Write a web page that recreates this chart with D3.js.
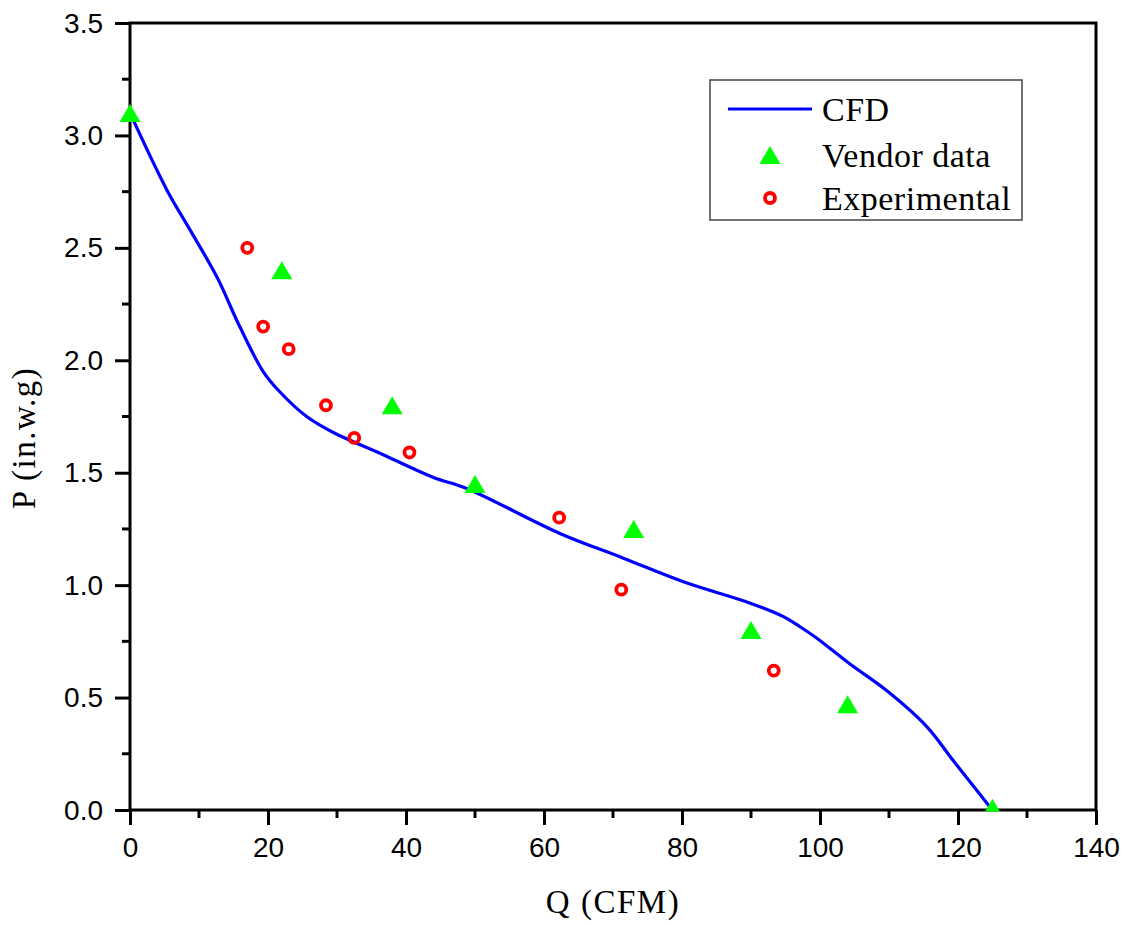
<!DOCTYPE html>
<html lang="en">
<head>
  <meta charset="UTF-8">
  <title>P-Q curve</title>
  <script src="https://d3js.org/d3.v7.min.js"></script>
  <style>
    body {
      margin: 0;
      padding: 0;
      background: #fff;
    }
    .tick-label {
      font-family: "Liberation Sans", Arial, sans-serif;
      font-size: 28px;
      fill: #000;
    }
    .title {
      font-family: "Liberation Serif", "Times New Roman", serif;
      font-size: 33px;
      letter-spacing: 1.5px;
      fill: #000;
    }
    .legend-text {
      font-family: "Liberation Serif", "Times New Roman", serif;
      font-size: 34px;
      letter-spacing: 0.5px;
      fill: #000;
    }
  </style>
</head>
<body>
  <svg id="chart" width="1126" height="925"></svg>

  <script>
    // CFD curve (Q, P)
    const cfdQ = [0, 5.3, 8.7, 12.6, 15.9, 19.3, 21.7, 25.6, 29.4, 36.7, 43.9, 48.8, 62.3, 71.5, 80.2, 89.9, 94.7, 97.1, 99.5, 104.3, 109.7, 115.5, 119.3, 124.2, 125];
    const cfdP = [3.10, 2.76, 2.58, 2.37, 2.15, 1.95, 1.86, 1.75, 1.68, 1.58, 1.48, 1.43, 1.23, 1.12, 1.015, 0.92, 0.86, 0.815, 0.765, 0.65, 0.53, 0.37, 0.22, 0.03, 0.0];

    // Vendor data
    const vendorQ = [0, 22, 38, 50, 73, 90, 104, 125];
    const vendorP = [3.1, 2.4, 1.8, 1.45, 1.25, 0.8, 0.47, 0.01];

    // Experimental
    const expQ = [17, 19.3, 23, 28.4, 32.5, 40.5, 62.2, 71.2, 93.3];
    const expP = [2.5, 2.15, 2.05, 1.8, 1.655, 1.59, 1.3, 0.98, 0.62];

    const xTicks = [0, 20, 40, 60, 80, 100, 120, 140];
    const yTicks = [0, 0.5, 1.0, 1.5, 2.0, 2.5, 3.0, 3.5];
    const legendLabels = ["CFD", "Vendor data", "Experimental"];

    const svg = d3.select("#chart");
    const plotL = 130, plotR = 1096, plotT = 23, plotB = 810;

    const x = d3.scaleLinear().domain([0, 140]).range([plotL, plotR]);
    const y = d3.scaleLinear().domain([0, 3.5]).range([plotB, plotT]);

    const cfd = cfdQ.map((q, i) => ({ q, p: cfdP[i] }));
    const vendor = vendorQ.map((q, i) => ({ q, p: vendorP[i] }));
    const exp = expQ.map((q, i) => ({ q, p: expP[i] }));

    svg.append("defs").append("clipPath").attr("id", "clip")
      .append("rect").attr("x", plotL - 15).attr("y", plotT).attr("width", plotR - plotL + 15).attr("height", plotB - plotT + 1.5);

    // curve
    const line = d3.line().x(d => x(d.q)).y(d => y(d.p)).curve(d3.curveCatmullRom.alpha(0.5));
    svg.append("path")
      .datum(cfd)
      .attr("d", line)
      .attr("fill", "none")
      .attr("stroke", "#0000ff")
      .attr("stroke-width", 3.2);

    // axes
    const xAxis = d3.axisBottom(x).tickValues(xTicks).tickSize(15).tickSizeOuter(0).tickPadding(10);
    const yAxis = d3.axisLeft(y).tickValues(yTicks).tickSize(15).tickSizeOuter(0).tickPadding(12).tickFormat(d3.format(".1f"));

    const gx = svg.append("g").attr("transform", `translate(0,${plotB})`).call(xAxis);
    const gy = svg.append("g").attr("transform", `translate(${plotL},0)`).call(yAxis);

    [gx, gy].forEach(g => {
      g.attr("font-size", null).attr("font-family", null);
      g.select(".domain").remove();
      g.selectAll(".tick line").attr("stroke", "#000").attr("stroke-width", 3);
      g.selectAll(".tick text").attr("class", "tick-label");
    });
    gx.selectAll(".tick text").attr("dy", null).attr("y", 47);
    gy.selectAll(".tick text").attr("dy", null).attr("y", 9);

    // minor ticks
    svg.append("g").selectAll("line")
      .data(d3.range(10, 140, 20))
      .join("line")
      .attr("x1", d => x(d)).attr("x2", d => x(d))
      .attr("y1", plotB).attr("y2", plotB + 8)
      .attr("stroke", "#000").attr("stroke-width", 3);
    svg.append("g").selectAll("line")
      .data(d3.range(0.25, 3.5, 0.5))
      .join("line")
      .attr("x1", plotL - 8).attr("x2", plotL)
      .attr("y1", d => y(d)).attr("y2", d => y(d))
      .attr("stroke", "#000").attr("stroke-width", 3);

    // frame
    svg.append("rect")
      .attr("x", plotL).attr("y", plotT)
      .attr("width", plotR - plotL).attr("height", plotB - plotT)
      .attr("fill", "none").attr("stroke", "#000").attr("stroke-width", 3);

    // markers
    const tri = (w, h) => `M0,${-h / 2}L${w / 2},${h / 2}L${-w / 2},${h / 2}Z`;
    const markers = svg.append("g").attr("clip-path", "url(#clip)");
    markers.selectAll("path")
      .data(vendor)
      .join("path")
      .attr("d", tri(21, 18))
      .attr("transform", d => `translate(${x(d.q)},${y(d.p)})`)
      .attr("fill", "#00ff00");
    markers.selectAll("circle")
      .data(exp)
      .join("circle")
      .attr("cx", d => x(d.q))
      .attr("cy", d => y(d.p))
      .attr("r", 5)
      .attr("fill", "none")
      .attr("stroke", "#ff0000")
      .attr("stroke-width", 3.8);

    // axis titles
    svg.append("text")
      .attr("class", "title")
      .attr("x", x(70))
      .attr("y", 913)
      .attr("text-anchor", "middle")
      .text("Q (CFM)");
    svg.append("text")
      .attr("class", "title")
      .attr("transform", "translate(35,438) rotate(-90)")
      .attr("text-anchor", "middle")
      .text("P (in.w.g)");

    // legend
    const lg = svg.append("g");
    lg.append("rect")
      .attr("x", 710).attr("y", 80)
      .attr("width", 312).attr("height", 140)
      .attr("fill", "#fff").attr("stroke", "#444").attr("stroke-width", 1.5);
    const rows = [109, 155, 198];
    lg.append("line")
      .attr("x1", 728).attr("x2", 812)
      .attr("y1", rows[0]).attr("y2", rows[0])
      .attr("stroke", "#0000ff").attr("stroke-width", 3.2);
    lg.append("path")
      .attr("d", tri(21, 18))
      .attr("transform", `translate(770,${rows[1]})`)
      .attr("fill", "#00ff00");
    lg.append("circle")
      .attr("cx", 770).attr("cy", rows[2]).attr("r", 5)
      .attr("fill", "none").attr("stroke", "#ff0000").attr("stroke-width", 3.8);
    lg.selectAll("text.legend-text")
      .data(legendLabels)
      .join("text")
      .attr("class", "legend-text")
      .attr("x", 822)
      .attr("y", (d, i) => rows[i] + 12)
      .text(d => d);
  </script>
</body>
</html>
